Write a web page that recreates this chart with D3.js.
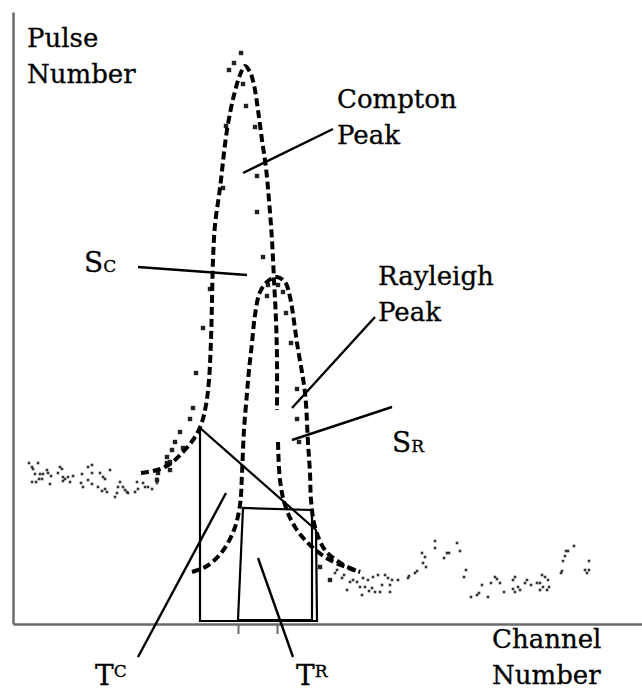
<!DOCTYPE html>
<html>
<head>
<meta charset="utf-8">
<script src="https://cdn.jsdelivr.net/npm/d3@7"></script>
<style>
  html, body { margin: 0; padding: 0; background: #fff; }
  svg { display: block; font-family: "DejaVu Serif", "Liberation Serif", serif; }
</style>
</head>
<body>
<div id="chart"></div>
<script>
// channel / pulse values (arbitrary units)
const comptonCurve = [
  [128, 151], [144, 154], [157, 160], [168, 170], [180, 184], [188, 199], [193, 219],
  [196, 244], [198, 284], [199, 324], [200, 364], [202, 399], [207, 436], [214, 494],
  [221, 529], [227, 549], [232, 558], [237, 552], [241, 539], [245, 514], [249, 484],
  [253, 456], [256, 424], [259, 384], [261, 344], [263, 304], [264, 264], [264, 214],
  null,
  [265, 182], [267, 144], [272, 119], [282, 97], [297, 79], [317, 64], [347, 52]
];

const rayleighCurve = [
  [179, 52], [194, 58], [209, 72], [221, 94], [227, 119], [229, 151], [231, 194],
  [234, 231], [236, 254], [239, 281], [242, 309], [247, 332], [255, 343], [264, 347],
  [272, 342], [277, 327], [284, 281], [292, 231], [295, 181], [297, 151], [298, 124],
  [302, 97], [312, 74], [329, 60], [347, 52]
];

const peakDots = [
  [145, 151], [144, 144], [154, 161], [157, 162], [157, 154], [159, 174], [162, 182],
  [170, 176], [167, 192], [177, 205], [180, 216], [183, 251], [190, 296], [197, 335],
  [210, 436], [213, 498], [216, 554], [221, 561], [228, 571], [230, 540], [233, 518],
  [242, 497], [244, 448], [244, 412], [250, 367], [254, 328], [255, 339], [265, 339],
  [270, 332], [273, 311], [278, 281], [284, 235], [284, 205], [286, 182], [307, 57],
  [317, 44], [154, 167], [154, 160]
];

const leftNoise = [
  [16, 161], [25, 161], [19, 157], [20, 155], [22, 150], [27, 150], [30, 150], [34, 154],
  [35, 151], [38, 148], [19, 142], [23, 142], [26, 145], [29, 145], [37, 140], [47, 157],
  [49, 155], [45, 151], [50, 147], [50, 143], [52, 145], [57, 142], [55, 147], [60, 148],
  [69, 150], [68, 141], [70, 137], [75, 157], [79, 159], [79, 151], [75, 144], [79, 140],
  [87, 151], [90, 147], [92, 145], [97, 154], [85, 137], [89, 133], [92, 135], [94, 132],
  [107, 142], [105, 137], [104, 131], [102, 127], [110, 137], [112, 134], [114, 132],
  [115, 131], [122, 132], [124, 142], [125, 135], [130, 141], [132, 137], [135, 137],
  [139, 135], [144, 145], [144, 141]
];

const rightNoise = [
  [322, 51], [324, 54], [329, 46], [331, 49], [334, 34], [337, 42], [340, 44], [344, 42],
  [347, 37], [349, 29], [350, 46], [352, 37], [355, 44], [356, 33], [359, 36], [360, 47],
  [362, 32], [365, 49], [367, 32], [369, 39], [372, 49], [375, 46], [377, 39], [377, 32],
  [379, 44], [385, 44], [395, 46], [396, 48], [402, 51], [404, 53], [409, 71], [410, 61],
  [412, 67], [413, 57], [422, 83], [422, 76], [431, 66], [434, 71], [436, 71], [444, 81],
  [447, 73], [453, 54], [451, 47], [458, 27], [464, 29], [466, 31], [469, 39], [475, 27],
  [478, 41], [482, 47], [484, 45], [487, 41], [491, 32], [500, 44], [502, 47], [500, 35],
  [502, 32], [505, 37], [507, 34], [512, 41], [514, 44], [518, 39], [524, 41], [527, 41],
  [529, 49], [532, 47], [527, 34], [530, 37], [535, 44], [534, 34], [536, 37], [548, 51],
  [549, 53], [550, 63], [552, 68], [553, 73], [555, 73], [561, 78], [572, 54], [574, 51],
  [576, 54], [576, 63]
];

// integration windows T^C and T^R
const tcRegion = [[187, 3], [187, 196], [303, 94], [304, 3]];
const trRegion = [[225, 4], [230, 116], [299, 114], [299, 4]];

const channelTicks = [225, 264];

// leader lines: [from, to]
const leaders = [
  [[230, 451], [320, 495]],
  [[125, 357], [234, 349]],
  [[279, 216], [362, 307]],
  [[279, 184], [379, 217]],
  [[213, 131], [125, -33]],
  [[245, 66], [280, -33]]
];

const peakLabels = [
  { lines: ['Compton', 'Peak'], at: [324, 516] },
  { lines: ['Rayleigh', 'Peak'], at: [365, 339] }
];

const symbolLabels = [
  { main: 'S', small: 'C', pos: 'sub', at: [71, 352] },
  { main: 'S', small: 'R', pos: 'sub', at: [379, 172] },
  { main: 'T', small: 'C', pos: 'sup', at: [82, -61] },
  { main: 'T', small: 'R', pos: 'sup', at: [283, -61] }
];

const yTitle = ['Pulse', 'Number'];
const xTitle = ['Channel', 'Number'];

const width = 642;
const height = 691;

const x = d3.scaleLinear().domain([0, 629]).range([13, 642]);
const y = d3.scaleLinear().domain([0, 612]).range([624, 12]);

const svg = d3.select('#chart').append('svg')
  .attr('width', width)
  .attr('height', height);

// axes
const axisColor = '#6a6a6a';

const xAxis = svg.append('g')
  .attr('transform', `translate(0,${y(0)})`)
  .call(d3.axisBottom(x).tickValues(channelTicks).tickSize(10).tickSizeOuter(0).tickFormat(''));

const yAxis = svg.append('g')
  .attr('transform', `translate(${x(0)},0)`)
  .call(d3.axisLeft(y).tickValues([]).tickSizeOuter(0));

[xAxis, yAxis].forEach(g => {
  g.select('.domain').attr('stroke', axisColor).attr('stroke-width', 2.5);
  g.selectAll('.tick line').attr('stroke', axisColor).attr('stroke-width', 2);
});

// noise dots
svg.append('g')
  .selectAll('rect')
  .data(leftNoise.concat(rightNoise))
  .enter()
  .append('rect')
  .attr('x', d => x(d[0]) - 1.3)
  .attr('y', d => y(d[1]) - 1.3)
  .attr('width', 2.6)
  .attr('height', 2.6)
  .attr('fill', '#333');

svg.append('g')
  .selectAll('rect')
  .data(peakDots)
  .enter()
  .append('rect')
  .attr('x', d => x(d[0]) - 2.2)
  .attr('y', d => y(d[1]) - 2.2)
  .attr('width', 4.4)
  .attr('height', 4.4)
  .attr('fill', '#222');

// windows
const region = d3.line().x(d => x(d[0])).y(d => y(d[1]));

svg.append('g')
  .selectAll('path')
  .data([tcRegion, trRegion])
  .enter()
  .append('path')
  .attr('d', d => region(d) + 'Z')
  .attr('fill', 'none')
  .attr('stroke', '#000')
  .attr('stroke-width', 2.2);

// fitted peaks
const curve = d3.line()
  .defined(d => d)
  .x(d => x(d[0]))
  .y(d => y(d[1]))
  .curve(d3.curveCatmullRom.alpha(0.5));

svg.append('g')
  .selectAll('path')
  .data([comptonCurve, rayleighCurve])
  .enter()
  .append('path')
  .attr('d', curve)
  .attr('fill', 'none')
  .attr('stroke', '#000')
  .attr('stroke-width', 4)
  .attr('stroke-dasharray', '8 4');

// leaders
svg.append('g')
  .selectAll('line')
  .data(leaders)
  .enter()
  .append('line')
  .attr('x1', d => x(d[0][0]))
  .attr('y1', d => y(d[0][1]))
  .attr('x2', d => x(d[1][0]))
  .attr('y2', d => y(d[1][1]))
  .attr('stroke', '#000')
  .attr('stroke-width', 2.4);

// text
const fontSize = 26;

function addLines(lines, px, py) {
  const t = svg.append('text')
    .attr('x', px)
    .attr('y', py)
    .attr('font-size', fontSize)
    .attr('fill', '#000')
    .attr('stroke', '#000')
    .attr('stroke-width', 0.3);
  lines.forEach((s, i) => {
    t.append('tspan')
      .attr('x', px)
      .attr('dy', i === 0 ? 0 : 36)
      .text(s);
  });
}

addLines(yTitle, 27, 47);
addLines(xTitle, 492, 648);

peakLabels.forEach(d => addLines(d.lines, x(d.at[0]), y(d.at[1])));

symbolLabels.forEach(d => {
  const t = svg.append('text')
    .attr('x', x(d.at[0]))
    .attr('y', y(d.at[1]))
    .attr('fill', '#000')
    .attr('stroke', '#000')
    .attr('stroke-width', 0.3);
  t.append('tspan').attr('font-size', 28).text(d.main);
  t.append('tspan')
    .attr('font-size', 17)
    .attr('dy', d.pos === 'sup' ? -8 : 0)
    .text(d.small);
});
</script>
</body>
</html>
